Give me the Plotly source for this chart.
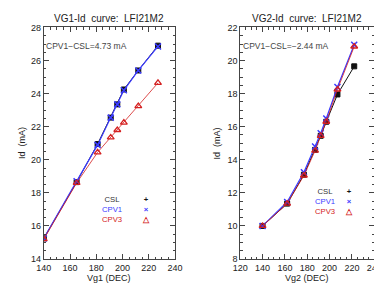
import plotly.graph_objects as go
from plotly.subplots import make_subplots

# Left panel: VG1 sweep
vg1 = [140, 165, 181, 191, 196, 201, 212, 227]
csl1 = [15.25, 18.65, 20.95, 22.55, 23.35, 24.25, 25.4, 26.9]
cpv1_1 = [15.25, 18.7, 20.9, 22.55, 23.35, 24.2, 25.4, 26.85]
cpv3_1 = [15.2, 18.6, 20.45, 21.35, 21.8, 22.25, 23.25, 24.65]

# Right panel: VG2 sweep
vg2 = [140, 162, 177, 187, 192, 197, 207, 222]
csl2 = [10.0, 11.35, 13.1, 14.6, 15.45, 16.3, 17.95, 19.65]
cpv1_2 = [10.0, 11.45, 13.25, 14.8, 15.6, 16.5, 18.4, 20.95]
cpv3_2 = [10.0, 11.35, 13.05, 14.55, 15.45, 16.3, 18.25, 20.85]

series_names = ["CSL", "CPV1", "CPV3"]
legend_symbols = ["+", "×", "△"]

BLACK = "#111111"
BLUE = "#3a3aff"
RED = "#d42020"
COLORS = ["#333333", BLUE, RED]
FONT = "Liberation Sans"

fig = make_subplots(rows=1, cols=2)

def add_panel(col, x, csl, cpv1, cpv3):
    fig.add_trace(go.Scatter(x=x, y=csl, mode="lines+markers",
                             line=dict(color=BLACK, width=1),
                             marker=dict(symbol="square", size=5, color=BLACK,
                                         line=dict(color=BLACK, width=1))),
                  row=1, col=col)
    fig.add_trace(go.Scatter(x=x, y=cpv1, mode="lines+markers",
                             line=dict(color=BLUE, width=1.2),
                             marker=dict(symbol="x-thin", size=6, line=dict(color=BLUE, width=1.5))),
                  row=1, col=col)
    fig.add_trace(go.Scatter(x=x, y=cpv3, mode="lines+markers",
                             line=dict(color=RED, width=0.8),
                             marker=dict(symbol="triangle-up-open", size=6, color=RED,
                                         line=dict(color=RED, width=1.3))),
                  row=1, col=col)

add_panel(1, vg1, csl1, cpv1_1, cpv3_1)
add_panel(2, vg2, csl2, cpv1_2, cpv3_2)

axis_common = dict(showline=True, linecolor="#444", linewidth=1, mirror="ticks",
                   ticks="inside", ticklen=5, tickcolor="#444", showgrid=False, zeroline=False,
                   tickfont=dict(family=FONT, size=9, color="#222"))

fig.update_xaxes(**axis_common)
fig.update_yaxes(**axis_common)

yd = [1 - 255 / 284, 1 - 15 / 284]
fig.update_layout(
    xaxis=dict(domain=[29 / 382, 166 / 382], range=[140, 240], dtick=20,
               minor=dict(ticks="inside", ticklen=2.5, dtick=5, tickcolor="#444")),
    yaxis=dict(domain=yd, range=[14, 28], dtick=2,
               minor=dict(ticks="inside", ticklen=2.5, dtick=0.5, tickcolor="#444")),
    xaxis2=dict(domain=[234 / 382, 374 / 382], range=[120, 240], dtick=20,
                minor=dict(ticks="inside", ticklen=2.5, dtick=5, tickcolor="#444")),
    yaxis2=dict(domain=yd, range=[8, 22], dtick=2,
                minor=dict(ticks="inside", ticklen=2.5, dtick=0.5, tickcolor="#444")),
)

ann = []
def a(x, y, text, size=9, color="#222", angle=0, xanchor="center", align="center"):
    ann.append(dict(x=x / 382, y=1 - y / 284, xref="paper", yref="paper", text=text,
                    showarrow=False, xanchor=xanchor, yanchor="middle", textangle=angle,
                    align=align, borderpad=0, font=dict(family=FONT, size=size, color=color)))

a(97, 6, "VG1-Id  curve:  LFI21M2", size=10)
a(304, 6, "VG2-Id  curve:  LFI21M2", size=10)
a(97, 275, "Vg1 (DEC)")
a(304, 275, "Vg2 (DEC)")
a(7, 135, "Id  (mA)", angle=-90)
a(210, 135, "Id  (mA)", angle=-90)
a(30, 34, "CPV1−CSL=4.73 mA", size=8.5, color="#444", xanchor="left")
a(236, 34, "CPV1−CSL=−2.44 mA", size=8.5, color="#444", xanchor="left")

# legends (one text block for the names, one for the symbols)
names_html = "<br>".join(f"<span style='color:{c}'>{n}</span>"
                         for n, c in zip(series_names, COLORS))
syms_html = "<br>".join(f"<span style='color:{c}'><b>{s}</b></span>"
                        for s, c in zip(legend_symbols, [BLACK, BLUE, RED]))
for xl, xs, yc in [(100, 136, 204), (322, 348, 195)]:
    a(xl, yc, names_html, size=7.7, color="#333")
    a(xs, yc, syms_html, size=7.7, color="#333")

fig.update_layout(annotations=ann, width=382, height=284, showlegend=False,
                  margin=dict(l=0, r=0, t=0, b=0),
                  plot_bgcolor="white", paper_bgcolor="white")

fig.write_html("out.html")
